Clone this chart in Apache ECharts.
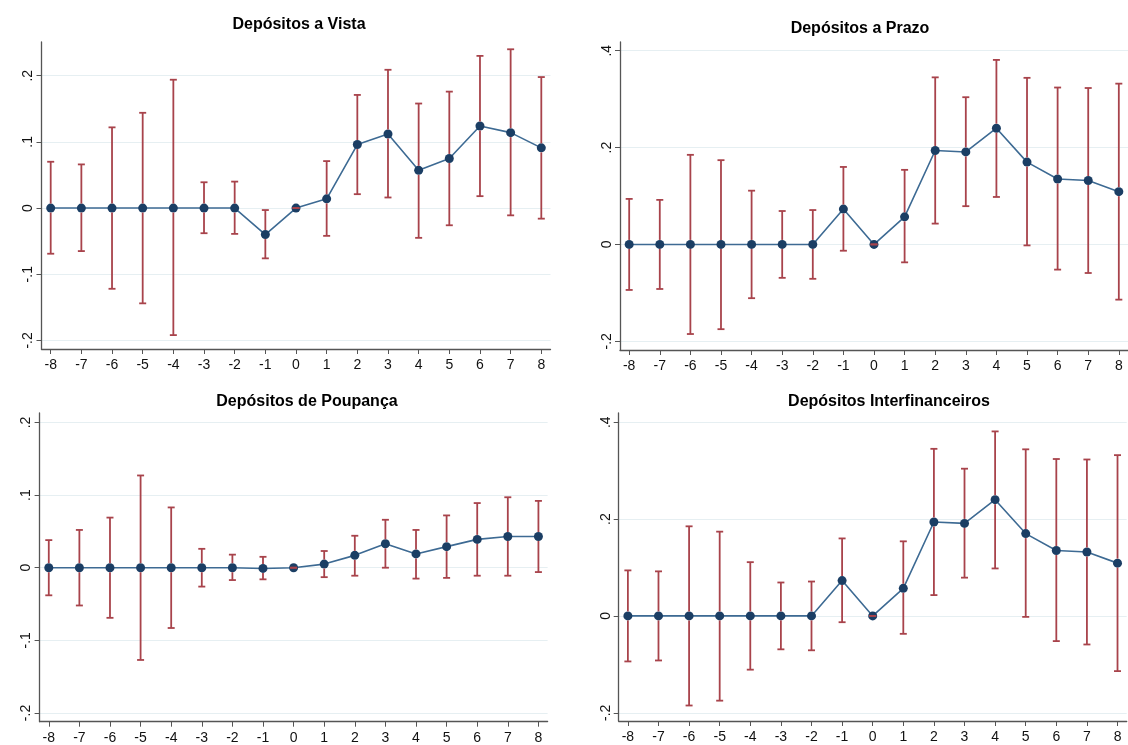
<!DOCTYPE html>
<html>
<head>
<meta charset="utf-8">
<title>Depósitos</title>
<script src="https://cdn.jsdelivr.net/npm/echarts@6.0.0/dist/echarts.min.js"></script>
<style>
    html, body { margin: 0; padding: 0; background: #fff; }
    #main { width: 1128px; height: 745px; }
</style>
</head>
<body>
<div id="main"></div>
<script>
// periodos relativos ao evento
var periods = [-8, -7, -6, -5, -4, -3, -2, -1, 0, 1, 2, 3, 4, 5, 6, 7, 8];

// Depósitos a Vista
var vistaCoef = [0, 0, 0, 0, 0, 0, 0, -0.040, 0, 0.014, 0.096, 0.112, 0.057, 0.075, 0.124, 0.114, 0.091];
var vistaLow = [-0.069, -0.065, -0.122, -0.144, -0.192, -0.038, -0.039, -0.076, 0, -0.042, 0.021, 0.016, -0.045, -0.026, 0.018, -0.011, -0.016];
var vistaHigh = [0.070, 0.066, 0.122, 0.144, 0.194, 0.039, 0.040, -0.003, 0, 0.071, 0.171, 0.209, 0.158, 0.176, 0.230, 0.240, 0.198];
var vistaTicks = [-0.2, -0.1, 0, 0.1, 0.2];

// Depósitos a Prazo
var prazoCoef = [0, 0, 0, 0, 0, 0, 0, 0.073, 0, 0.057, 0.194, 0.191, 0.240, 0.170, 0.135, 0.132, 0.109];
var prazoLow = [-0.094, -0.092, -0.185, -0.175, -0.111, -0.069, -0.071, -0.013, 0, -0.037, 0.043, 0.079, 0.098, -0.002, -0.052, -0.059, -0.114];
var prazoHigh = [0.094, 0.092, 0.185, 0.174, 0.111, 0.069, 0.071, 0.160, 0, 0.154, 0.345, 0.304, 0.381, 0.344, 0.324, 0.323, 0.332];
var prazoTicks = [-0.2, 0, 0.2, 0.4];

// Depósitos de Poupança
var poupCoef = [0, 0, 0, 0, 0, 0, 0, -0.001, 0, 0.005, 0.017, 0.033, 0.019, 0.029, 0.039, 0.043, 0.043];
var poupLow = [-0.038, -0.052, -0.069, -0.127, -0.083, -0.026, -0.017, -0.016, 0, -0.013, -0.011, 0.000, -0.015, -0.014, -0.011, -0.011, -0.006];
var poupHigh = [0.038, 0.052, 0.069, 0.127, 0.083, 0.026, 0.018, 0.015, 0, 0.023, 0.044, 0.066, 0.052, 0.072, 0.089, 0.097, 0.092];
var poupTicks = [-0.2, -0.1, 0, 0.1, 0.2];

// Depósitos Interfinanceiros
var interCoef = [0, 0, 0, 0, 0, 0, 0, 0.073, 0, 0.057, 0.194, 0.191, 0.240, 0.170, 0.135, 0.132, 0.109];
var interLow = [-0.094, -0.092, -0.185, -0.175, -0.111, -0.069, -0.071, -0.013, 0, -0.037, 0.043, 0.079, 0.098, -0.002, -0.052, -0.059, -0.114];
var interHigh = [0.094, 0.092, 0.185, 0.174, 0.111, 0.069, 0.071, 0.160, 0, 0.154, 0.345, 0.304, 0.381, 0.344, 0.324, 0.323, 0.332];
var interTicks = [-0.2, 0, 0.2, 0.4];

var panels = [
    { title: "Depósitos a Vista", coef: vistaCoef, low: vistaLow, high: vistaHigh, ticks: vistaTicks,
      grid: { left: 41.5, top: 42, width: 509, height: 307 }, yMin: -0.213, yMax: 0.251, titleX: 299, titleY: 25 },
    { title: "Depósitos a Prazo", coef: prazoCoef, low: prazoLow, high: prazoHigh, ticks: prazoTicks,
      grid: { left: 620, top: 42, width: 508, height: 308 }, yMin: -0.218, yMax: 0.418, titleX: 860, titleY: 29 },
    { title: "Depósitos de Poupança", coef: poupCoef, low: poupLow, high: poupHigh, ticks: poupTicks,
      grid: { left: 39.6, top: 413, width: 508, height: 308.7 }, yMin: -0.212, yMax: 0.213, titleX: 307, titleY: 402 },
    { title: "Depósitos Interfinanceiros", coef: interCoef, low: interLow, high: interHigh, ticks: interTicks,
      grid: { left: 618.7, top: 413, width: 508, height: 308 }, yMin: -0.217, yMax: 0.419, titleX: 889, titleY: 402 }
];

var BAR_COLOR = "#a8434b";
var LINE_COLOR = "#3d6a93";
var DOT_COLOR = "#1b3e64";
var AXIS_COLOR = "#555";
var DOT_R = 4.5;

// formato do Stata: .2, -.1, 0
function stataLabel(v) {
    var r = Math.round(v * 10) / 10;
    if (r === 0) return "0";
    return (r < 0 ? "-" : "") + String(Math.abs(r)).replace(/^0/, "");
}

// barra de erro com "chapeu", cortada em volta do ponto
function renderErrorBar(params, api) {
    var x = api.value(0);
    var lo = api.coord([x, api.value(1)]);
    var hi = api.coord([x, api.value(2)]);
    var est = api.coord([x, api.value(3)]);
    var cap = 3.5;
    var style = { stroke: BAR_COLOR, lineWidth: 1.8 };
    var children = [];
    if (hi[1] < est[1] - DOT_R) {
        children.push({ type: "line", shape: { x1: hi[0], y1: hi[1], x2: est[0], y2: est[1] - DOT_R }, style: style });
    }
    if (lo[1] > est[1] + DOT_R) {
        children.push({ type: "line", shape: { x1: est[0], y1: est[1] + DOT_R, x2: lo[0], y2: lo[1] }, style: style });
    }
    children.push({ type: "line", shape: { x1: hi[0] - cap, y1: hi[1], x2: hi[0] + cap, y2: hi[1] }, style: style });
    children.push({ type: "line", shape: { x1: lo[0] - cap, y1: lo[1], x2: lo[0] + cap, y2: lo[1] }, style: style });
    return { type: "group", children: children };
}

var grids = [], xAxes = [], yAxes = [], series = [], graphics = [];

panels.forEach(function(p, i) {
    grids.push(p.grid);
    xAxes.push({
        type: "value",
        gridIndex: i,
        min: -8.3,
        max: 8.3,
        axisLine: { onZero: false, lineStyle: { color: AXIS_COLOR, width: 1.3 } },
        axisTick: { customValues: periods, length: 5, lineStyle: { color: AXIS_COLOR } },
        axisLabel: { customValues: periods, margin: 9, color: "#111", fontSize: 14, fontFamily: "Liberation Sans" },
        splitLine: { show: false }
    });
    yAxes.push({
        type: "value",
        gridIndex: i,
        min: p.yMin,
        max: p.yMax,
        axisLine: { show: true, onZero: false, lineStyle: { color: AXIS_COLOR, width: 1.3 } },
        axisTick: { show: true, customValues: p.ticks, length: 5, lineStyle: { color: AXIS_COLOR } },
        axisLabel: {
            customValues: p.ticks,
            rotate: 90,
            margin: 6,
            color: "#111",
            fontSize: 14,
            fontFamily: "Liberation Sans",
            formatter: stataLabel
        },
        splitLine: { show: true, lineStyle: { color: "#e6eff2", width: 1 } }
    });

    var barData = [];
    var lineData = [];
    for (var k = 0; k < periods.length; k++) {
        barData.push([periods[k], p.low[k], p.high[k], p.coef[k]]);
        lineData.push([periods[k], p.coef[k]]);
    }

    series.push({
        type: "line",
        xAxisIndex: i,
        yAxisIndex: i,
        data: lineData,
        symbol: "circle",
        symbolSize: DOT_R * 2,
        lineStyle: { color: LINE_COLOR, width: 1.6 },
        itemStyle: { color: DOT_COLOR },
        z: 2,
        animation: false
    });
    series.push({
        type: "custom",
        xAxisIndex: i,
        yAxisIndex: i,
        data: barData,
        renderItem: renderErrorBar,
        encode: { x: 0, y: [1, 2] },
        z: 3,
        animation: false
    });

    graphics.push({
        type: "text",
        x: p.titleX,
        y: p.titleY,
        style: {
            text: p.title,
            fill: "#000",
            font: "bold 16px 'Liberation Sans'",
            textAlign: "center",
            textVerticalAlign: "middle"
        }
    });
});

var option = {
    backgroundColor: "#fff",
    animation: false,
    grid: grids,
    xAxis: xAxes,
    yAxis: yAxes,
    series: series,
    graphic: graphics
};

var myChart = echarts.init(document.getElementById("main"));
myChart.setOption(option);
window.addEventListener("resize", function() {
    myChart.resize();
});
</script>
</body>
</html>
